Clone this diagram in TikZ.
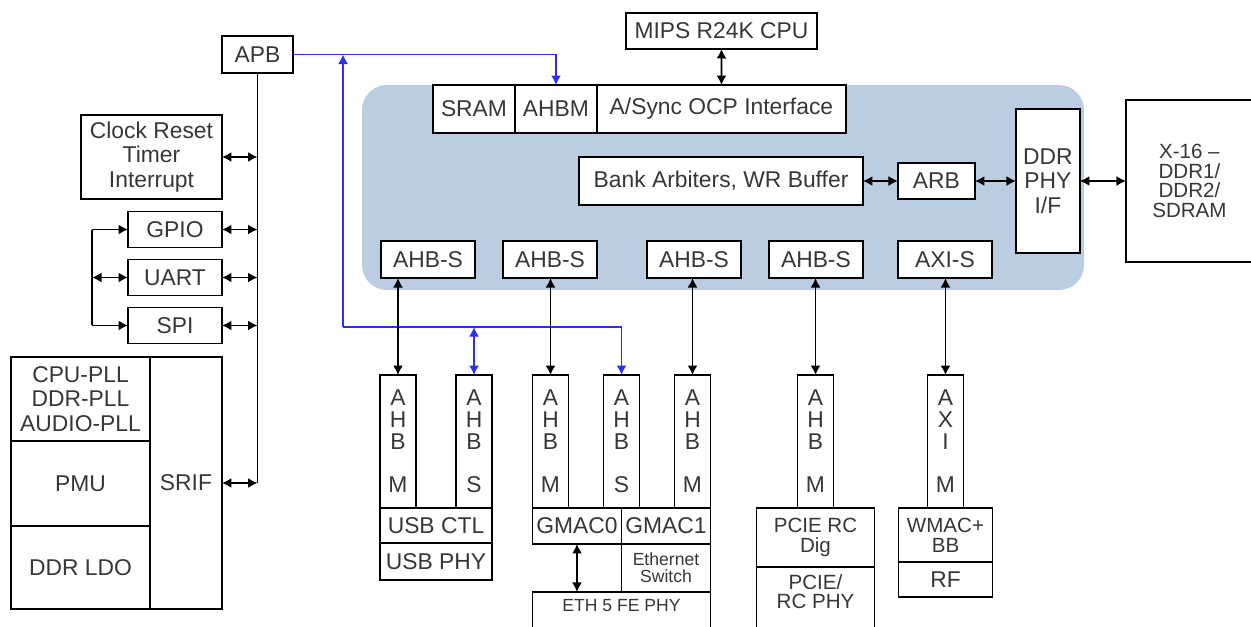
\documentclass[tikz,border=0pt]{standalone}
\usepackage{fontspec}
\setmainfont{Liberation Sans}
\usepackage{xcolor}
\usetikzlibrary{positioning, arrows.meta}

\definecolor{panelblue}{RGB}{188,205,225}
\definecolor{apbblue}{RGB}{45,45,255}
\definecolor{txtgray}{RGB}{55,55,55}

\newcommand{\fbig}{\fontsize{13}{14}\selectfont}
\newcommand{\fmid}{\fontsize{11.7}{11.2}\selectfont}
\newcommand{\fsmall}{\fontsize{10}{9.6}\selectfont}

\tikzset{
	blk/.style={draw, line width=1pt, fill=white, inner sep=0pt, outer sep=0pt, align=center, text=txtgray, font=\fbig},
	colbox/.style={blk, minimum width=0.72cm, minimum height=2.66cm, font=\fontsize{13}{12.5}\selectfont},
	ahbs/.style={blk, minimum width=1.88cm, minimum height=0.74cm},
	wire/.style={line width=0.9pt},
	apbwire/.style={line width=0.9pt, apbblue},
}

\begin{document}
\begin{tikzpicture}[x=0.02cm, y=-0.02cm, >={Latex[length=1.9mm,width=2mm]}]
		\useasboundingbox (0,0) rectangle (1251,626);
		
		% le bloc bleu
		\fill[panelblue, rounded corners=0.5cm] (362,85) rectangle (1084,290);
		
		\node[blk, minimum width=1.42cm, minimum height=0.74cm] (apb) at (257.5,54.5) {APB};
		\node[blk, minimum width=2.82cm, minimum height=1.68cm] (clk) at (151.5,157) {Clock Reset\\Timer\\Interrupt};
		\node[blk, minimum width=1.88cm, minimum height=0.72cm] (gpio) at (175,229.5) {GPIO};
		\node[blk, minimum width=1.88cm, minimum height=0.72cm, below = 0.24cm of gpio] (uart) {UART};
		\node[blk, minimum width=1.88cm, minimum height=0.72cm, below = 0.24cm of uart] (spi) {SPI};
		
		\node[blk, minimum width=2.78cm, minimum height=1.68cm] (pll) at (80.5,399) {CPU-PLL\\DDR-PLL\\AUDIO-PLL};
		\node[blk, minimum width=2.78cm, minimum height=1.7cm, below = 0pt of pll] (pmu) {PMU};
		\node[blk, minimum width=2.78cm, minimum height=1.66cm, below = 0pt of pmu] (ldo) {DDR LDO};
		\node[blk, minimum width=1.44cm, minimum height=5.04cm, anchor=north west] (srif) at (pll.north east) {SRIF};
		
		\node[blk, minimum width=3.82cm, minimum height=0.72cm] (cpu) at (721.5,31) {MIPS R24K CPU};
		\node[blk, minimum width=1.64cm, minimum height=0.96cm] (sram) at (474,109) {SRAM};
		\node[blk, minimum width=1.64cm, minimum height=0.96cm, right = 0pt of sram] (ahbm) {AHBM};
		\node[blk, minimum width=4.98cm, minimum height=0.96cm, right = 0pt of ahbm] (ocp) {A/Sync OCP Interface};
		
		\node[blk, minimum width=5.68cm, minimum height=0.96cm] (bank) at (721,181) {Bank Arbiters, WR Buffer};
		\node[blk, minimum width=1.54cm, minimum height=0.72cm, right = 0.7cm of bank] (arb) {ARB};
		\node[blk, minimum width=1.28cm, minimum height=2.88cm, right = 0.82cm of arb] (phy) {DDR\\PHY\\I/F};
		\node[blk, minimum width=2.54cm, minimum height=3.24cm, right = 0.92cm of phy, font=\fmid] (ddr) {X-16 --\\DDR1/\\DDR2/\\SDRAM};
		
		\node[ahbs] (s1) at (428,259.5) {AHB-S};
		\node[ahbs, right = 0.56cm of s1] (s2) {AHB-S};
		\node[ahbs, right = 1cm of s2] (s3) {AHB-S};
		\node[ahbs, right = 0.56cm of s3] (s4) {AHB-S};
		\node[ahbs, right = 0.7cm of s4] (s5) {AXI-S};
		
		% USB
		\node[colbox] (um) at (398,441.5) {A\\H\\B\\[12pt]M};
		\node[colbox] (us) at (474,441.5) {A\\H\\B\\[12pt]S};
		\node[blk, minimum width=2.24cm, minimum height=0.7cm, anchor=north west] (usbctl) at (um.south west) {USB CTL};
		\node[blk, minimum width=2.24cm, minimum height=0.74cm, below = 0pt of usbctl] (usbphy) {USB PHY};
		
		% GMAC
		\node[colbox] (g0m) at (550.5,441.5) {A\\H\\B\\[12pt]M};
		\node[colbox] (g0s) at (621.5,441.5) {A\\H\\B\\[12pt]S};
		\node[colbox] (g1m) at (692.5,441.5) {A\\H\\B\\[12pt]M};
		\node[blk, minimum width=1.78cm, minimum height=0.72cm, anchor=north west] (gmac0) at (g0m.south west) {GMAC0};
		\node[blk, minimum width=1.78cm, minimum height=0.72cm, right = 0pt of gmac0] (gmac1) {GMAC1};
		\node[blk, minimum width=1.78cm, minimum height=0.96cm, below = 0pt of gmac1, font=\fsmall] (sw) {Ethernet\\Switch};
		\node[blk, minimum width=3.56cm, minimum height=1.2cm, anchor=north west,
			label={[anchor=north, inner sep=3.8pt, text=txtgray, font=\fsmall]north:ETH 5 FE PHY}] (eth) at (gmac0.south west |- sw.south) {};
		
		% PCIE et WMAC
		\node[colbox] (pm) at (815.5,441.5) {A\\H\\B\\[12pt]M};
		\node[blk, minimum width=2.36cm, minimum height=1.18cm, below = 0pt of pm, font=\fmid] (pcie) {PCIE RC\\Dig};
		\node[blk, minimum width=2.36cm, minimum height=1.4cm, below = 0pt of pcie,
			label={[anchor=north, inner sep=4pt, align=center, text=txtgray, font=\fmid]north:PCIE/\\RC PHY}] (pciephy) {};
		\node[colbox] (xm) at (945.5,441.5) {A\\X\\I\\[12pt]M};
		\node[blk, minimum width=1.88cm, minimum height=1.08cm, below = 0pt of xm, font=\fmid] (wmac) {WMAC+\\BB};
		\node[blk, minimum width=1.88cm, minimum height=0.7cm, below = 0pt of wmac] (rf) {RF};
		
		% les traits bleus
		\coordinate (tap) at (343,327);
		\draw[apbwire, ->] (apb) -| (ahbm);
		\draw[apbwire, ->] (tap) -- (tap |- apb.east);
		\draw[apbwire, ->] (tap) -| (g0s);
		\draw[apbwire, <->] (tap -| us) -- (us);
		
		% le bus APB
		\coordinate (busend) at (apb.south |- srif.east);
		\coordinate (lt) at ([xshift=-0.72cm]gpio.west);
		\coordinate (lb) at ([xshift=-0.72cm]spi.west);
		\draw[wire] (apb) -- (busend);
		\draw[wire, <->] (clk) -- (clk -| busend);
		\draw[wire, <->] (gpio) -- (gpio -| busend);
		\draw[wire, <->] (uart) -- (uart -| busend);
		\draw[wire, <->] (spi) -- (spi -| busend);
		\draw[wire, <->] (srif) -- (busend);
		\draw[wire] (lt) -- (lb);
		\draw[wire, ->] (lt) -- (gpio);
		\draw[wire, ->] (lb) -- (spi);
		\draw[wire, <->] (uart -| lt) -- (uart);
		
		\draw[wire, <->] (cpu) -- (ocp);
		\draw[wire, <->] (bank) -- (arb);
		\draw[wire, <->] (arb) -- (phy);
		\draw[wire, <->] (phy) -- (ddr);
		
		\draw[wire, <->] (s1.south -| um) -- (um);
		\draw[wire, <->] (s2.south -| g0m) -- (g0m);
		\draw[wire, <->] (s3.south -| g1m) -- (g1m);
		\draw[wire, <->] (s4.south -| pm) -- (pm);
		\draw[wire, <->] (s5.south -| xm) -- (xm);
		\draw[wire, <->] (gmac0) -- (gmac0 |- eth.north);
	\end{tikzpicture}
\end{document}
